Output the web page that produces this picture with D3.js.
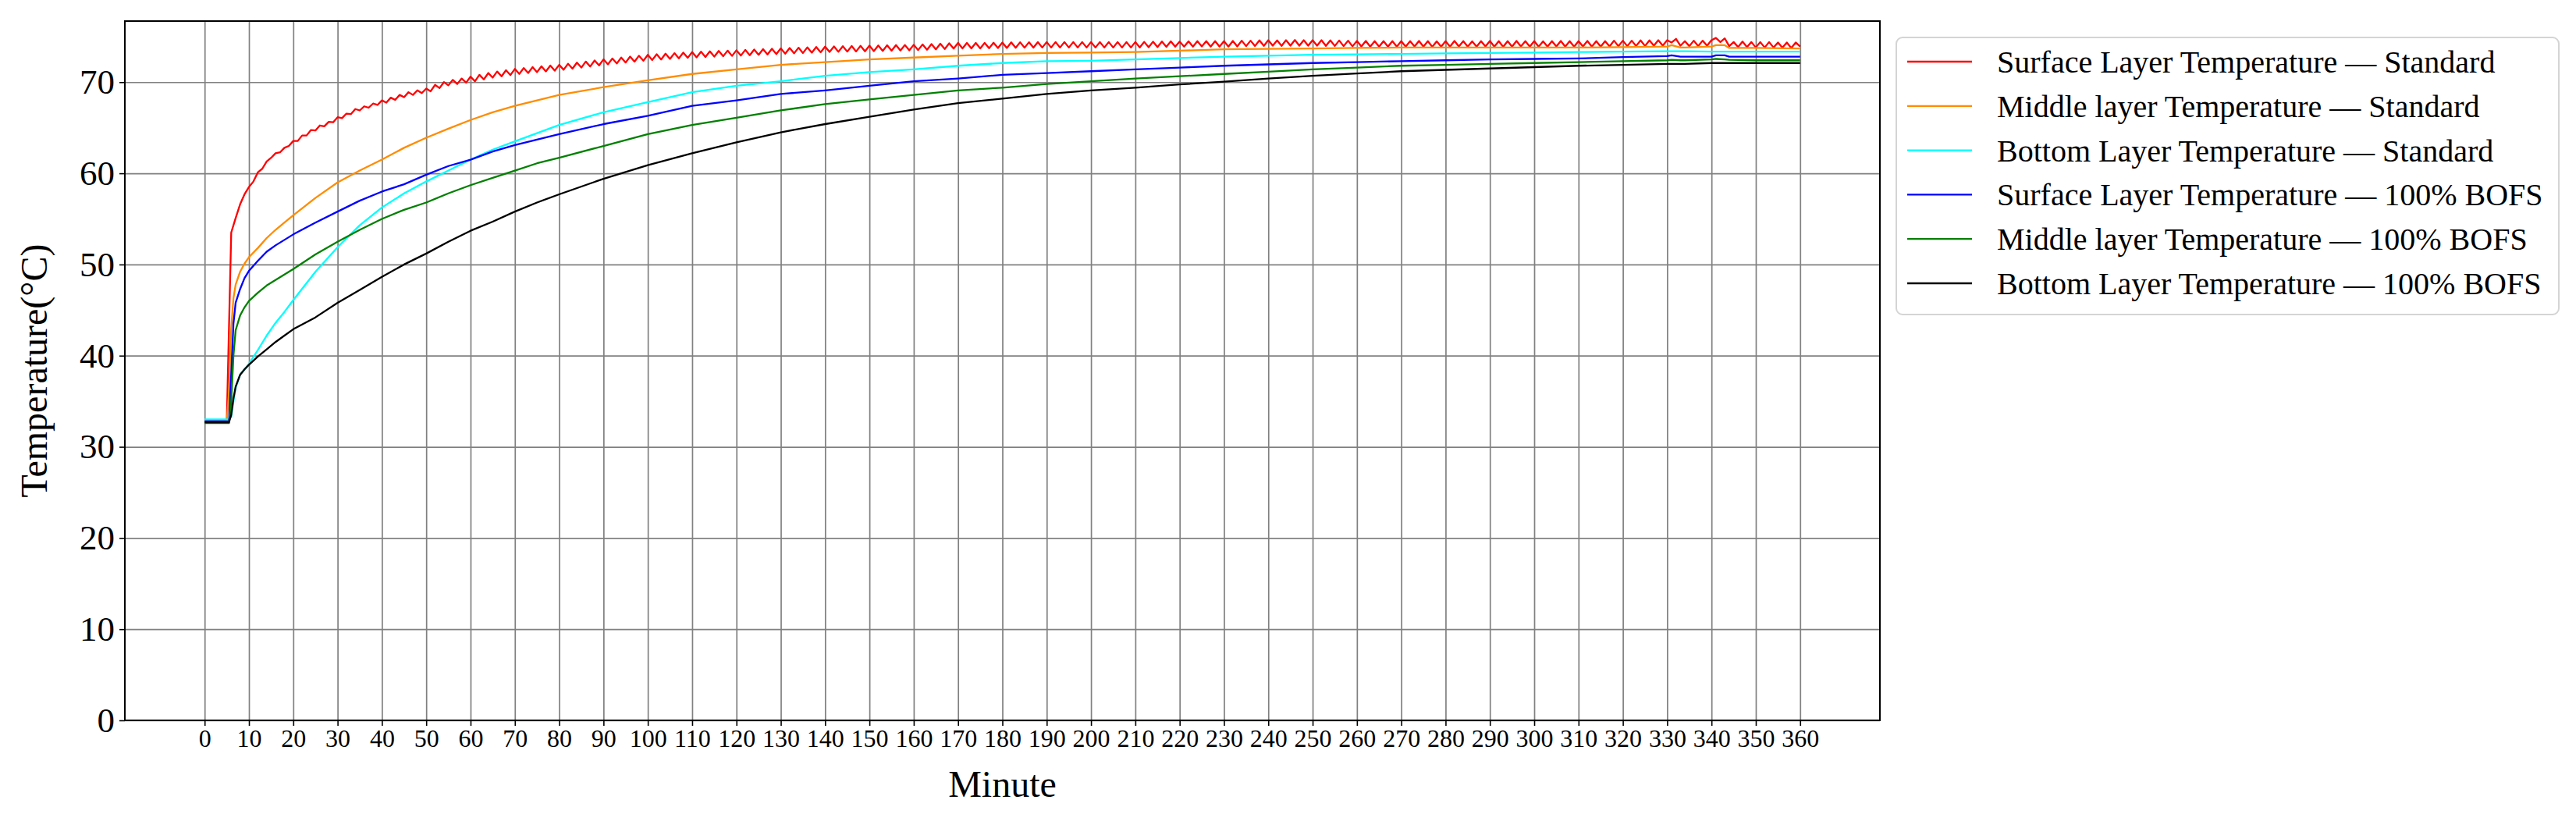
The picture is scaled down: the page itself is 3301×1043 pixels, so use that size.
<!DOCTYPE html>
<html>
<head>
<meta charset="utf-8">
<script src="https://cdn.jsdelivr.net/npm/d3@7"></script>
<style>
  body { margin: 0; background: #fff; }
  svg text { font-family: "Liberation Serif", "Times New Roman", serif; fill: #000; }
</style>
</head>
<body>
<svg id="chart"></svg>
<script>
// Layer temperatures over time, standard vs 100% BOFS.

// shared time grid (minutes) for the five smoother series
const minutes = [0, 2, 4, 5, 5.5, 6, 6.5, 7, 8, 9, 10, 12, 14, 16, 18, 20, 25, 30, 35, 40,
  45, 50, 55, 60, 65, 70, 75, 80, 90, 100, 110, 120, 130, 140, 150, 160, 170, 180, 190, 200,
  210, 220, 230, 240, 250, 260, 270, 280, 290, 300, 310, 320, 330, 331, 333, 334, 340, 341, 343, 344,
  350, 360];

const middleStd = [32.8, 32.8, 32.8, 32.8, 36.0, 43.0, 46.3, 47.8, 49.2, 50.1, 50.8, 51.8, 52.9, 53.8, 54.6, 55.4, 57.3, 59.0, 60.3, 61.5,
  62.8, 63.9, 64.9, 65.85, 66.7, 67.4, 68.0, 68.6, 69.45, 70.2, 70.9, 71.4, 71.9, 72.2, 72.5, 72.7, 72.9, 73.1, 73.2, 73.25,
  73.3, 73.45, 73.6, 73.65, 73.7, 73.75, 73.8, 73.8, 73.8, 73.8, 73.8, 73.85, 73.9, 74.05, 73.8, 73.8, 73.9, 74.05, 74.05, 73.75,
  73.75, 73.7];

const bottomStd = [33.0, 33.0, 33.0, 33.0, 33.0, 33.3, 35.0, 36.5, 37.9, 38.5, 39.1, 40.6, 42.2, 43.6, 44.8, 46.1, 49.2, 51.9, 54.3, 56.25,
  57.8, 59.1, 60.3, 61.5, 62.6, 63.5, 64.4, 65.3, 66.7, 67.8, 68.9, 69.6, 70.1, 70.7, 71.1, 71.4, 71.8, 72.1, 72.3, 72.35,
  72.5, 72.65, 72.8, 72.9, 73.0, 73.05, 73.1, 73.15, 73.2, 73.25, 73.3, 73.35, 73.4, 73.4, 73.4, 73.4, 73.35, 73.35, 73.35, 73.35,
  73.35, 73.35];

const surfaceBofs = [32.8, 32.8, 32.8, 32.8, 32.8, 38.0, 43.5, 45.8, 47.3, 48.5, 49.3, 50.4, 51.4, 52.1, 52.7, 53.3, 54.6, 55.8, 57.0, 58.0,
  58.8, 59.85, 60.8, 61.5, 62.4, 63.1, 63.7, 64.3, 65.4, 66.3, 67.4, 68.0, 68.7, 69.1, 69.6, 70.1, 70.4, 70.8, 71.0, 71.2,
  71.4, 71.6, 71.8, 71.95, 72.1, 72.2, 72.3, 72.4, 72.5, 72.55, 72.6, 72.75, 72.85, 72.95, 72.8, 72.8, 72.8, 72.95, 72.95, 72.8,
  72.8, 72.8];

const middleBofs = [32.6, 32.6, 32.6, 32.6, 32.6, 35.0, 40.0, 42.8, 44.4, 45.3, 46.0, 46.9, 47.7, 48.3, 48.9, 49.5, 51.1, 52.5, 53.8, 55.0,
  56.0, 56.8, 57.8, 58.7, 59.5, 60.3, 61.1, 61.7, 63.0, 64.3, 65.3, 66.1, 66.9, 67.6, 68.1, 68.6, 69.1, 69.4, 69.8, 70.1,
  70.4, 70.65, 70.9, 71.15, 71.4, 71.6, 71.8, 71.9, 72.0, 72.1, 72.2, 72.3, 72.4, 72.45, 72.4, 72.4, 72.5, 72.55, 72.5, 72.45,
  72.4, 72.4];

const bottomBofs = [32.7, 32.7, 32.7, 32.7, 32.7, 33.5, 35.3, 36.6, 37.9, 38.5, 39.0, 39.9, 40.7, 41.5, 42.2, 42.9, 44.2, 45.8, 47.2, 48.65,
  50.0, 51.2, 52.5, 53.7, 54.7, 55.8, 56.8, 57.7, 59.4, 60.9, 62.2, 63.4, 64.5, 65.4, 66.2, 67.0, 67.7, 68.2, 68.7, 69.1,
  69.4, 69.75, 70.05, 70.4, 70.7, 70.95, 71.2, 71.35, 71.5, 71.65, 71.8, 71.9, 72.0, 72.0, 72.0, 72.0, 72.1, 72.1, 72.1, 72.1,
  72.1, 72.1];

// surface layer (standard) is logged every minute and jitters visibly
const surfaceMinutes = d3.range(0, 361);
const surfaceStd = [
  32.9, 32.9, 32.9, 32.9, 32.9, 32.9, 53.5, 55.1, 56.6, 57.7,
  58.5, 59.1, 60.1, 60.5, 61.3, 61.7, 62.2, 62.3, 62.8, 63.0,
  63.55, 63.55, 64.15, 64.15, 64.75, 64.7, 65.25, 65.15, 65.65, 65.6,
  66.15, 66.05, 66.55, 66.5, 67.05, 66.9, 67.35, 67.2, 67.65, 67.5,
  68.0, 67.75, 68.3, 68.05, 68.6, 68.35, 68.9, 68.6, 69.1, 68.8,
  69.3, 69.0, 69.7, 69.35, 70.0, 69.65, 70.25, 69.8, 70.4, 69.95,
  70.6, 70.1, 70.8, 70.3, 71.0, 70.5, 71.17, 70.64, 71.31, 70.78,
  71.45, 70.9, 71.55, 71.0, 71.65, 71.1, 71.74, 71.18, 71.82, 71.26,
  71.9, 71.36, 72.02, 71.48, 72.14, 71.6, 72.26, 71.72, 72.38, 71.84,
  72.5, 71.95, 72.6, 72.05, 72.7, 72.15, 72.8, 72.25, 72.9, 72.35,
  73.0, 72.43, 73.06, 72.49, 73.12, 72.55, 73.18, 72.61, 73.24, 72.67,
  73.3, 72.72, 73.34, 72.76, 73.38, 72.8, 73.42, 72.84, 73.46, 72.88,
  73.5, 72.92, 73.54, 72.96, 73.58, 73.0, 73.62, 73.04, 73.66, 73.08,
  73.7, 73.12, 73.74, 73.16, 73.78, 73.2, 73.82, 73.24, 73.86, 73.28,
  73.9, 73.31, 73.92, 73.33, 73.94, 73.35, 73.96, 73.37, 73.98, 73.39,
  74.0, 73.41, 74.02, 73.43, 74.04, 73.45, 74.06, 73.47, 74.08, 73.49,
  74.1, 73.52, 74.14, 73.56, 74.18, 73.6, 74.22, 73.64, 74.26, 73.68,
  74.3, 73.7, 74.3, 73.7, 74.3, 73.7, 74.3, 73.72, 74.32, 73.74,
  74.34, 73.75, 74.36, 73.77, 74.38, 73.78, 74.38, 73.79, 74.39, 73.8,
  74.4, 73.8, 74.4, 73.8, 74.4, 73.8, 74.4, 73.8, 74.4, 73.8,
  74.4, 73.8, 74.4, 73.8, 74.4, 73.8, 74.4, 73.8, 74.4, 73.8,
  74.4, 73.81, 74.42, 73.83, 74.44, 73.85, 74.46, 73.87, 74.48, 73.89,
  74.45, 73.9, 74.48, 73.9, 74.5, 73.92, 74.5, 73.9, 74.5, 73.9,
  74.5, 73.9, 74.52, 73.92, 74.55, 73.95, 74.55, 73.97, 74.58, 73.98,
  74.6, 74.0, 74.58, 73.98, 74.6, 74.0, 74.62, 74.0, 74.6, 74.0,
  74.6, 74.0, 74.6, 73.98, 74.58, 73.97, 74.57, 73.95, 74.55, 73.93,
  74.53, 73.92, 74.52, 73.9, 74.5, 73.9, 74.5, 73.9, 74.5, 73.9,
  74.5, 73.9, 74.5, 73.92, 74.52, 73.9, 74.5, 73.88, 74.48, 73.9,
  74.5, 73.9, 74.52, 73.92, 74.5, 73.9, 74.48, 73.9, 74.5, 73.92,
  74.52, 73.9, 74.5, 73.88, 74.5, 73.9, 74.52, 73.92, 74.5, 73.9,
  74.5, 73.9, 74.48, 73.9, 74.5, 73.92, 74.52, 73.9, 74.5, 73.9,
  74.5, 73.92, 74.52, 73.9, 74.5, 73.9, 74.5, 73.92, 74.55, 73.95,
  74.55, 73.95, 74.55, 73.97, 74.58, 73.97, 74.58, 74.0, 74.6, 74.0,
  74.6, 74.35, 74.75, 74.0, 74.5, 73.95, 74.55, 73.97, 74.55, 74.0,
  74.6, 74.85, 74.4, 74.8, 73.95, 74.4, 73.85, 74.45, 73.85, 74.4,
  73.8, 74.4, 73.8, 74.4, 73.8, 74.35, 73.78, 74.35, 73.75, 74.35,
  73.9];

const xTicks = d3.range(0, 361, 10);
const yTicks = d3.range(0, 71, 10);

const SERIES = [
  { name: 'Surface Layer Temperature — Standard', color: '#ff0000', t: surfaceMinutes, v: surfaceStd },
  { name: 'Middle layer Temperature — Standard',  color: '#ff8c00', t: minutes, v: middleStd },
  { name: 'Bottom Layer Temperature — Standard',  color: '#00ffff', t: minutes, v: bottomStd },
  { name: 'Surface Layer Temperature — 100% BOFS', color: '#0000ff', t: minutes, v: surfaceBofs },
  { name: 'Middle layer Temperature — 100% BOFS',  color: '#008000', t: minutes, v: middleBofs },
  { name: 'Bottom Layer Temperature — 100% BOFS',  color: '#000000', t: minutes, v: bottomBofs }
];

const W = 3301, H = 1043;
const M = { left: 160, right: 2409, top: 27, bottom: 923 };

const svg = d3.select('#chart').attr('width', W).attr('height', H);
svg.append('rect').attr('width', W).attr('height', H).attr('fill', '#fff');

const x = d3.scaleLinear().domain([-18, 378]).range([M.left, M.right]);
const y = d3.scaleLinear().domain([0, 76.7]).range([M.bottom, M.top]);

// grid
const gx = svg.append('g').attr('transform', `translate(0,${M.bottom})`)
  .call(d3.axisBottom(x).tickValues(xTicks).tickSize(-(M.bottom - M.top)).tickFormat(''));
const gy = svg.append('g').attr('transform', `translate(${M.left},0)`)
  .call(d3.axisLeft(y).tickValues(yTicks).tickSize(-(M.right - M.left)).tickFormat(''));
[gx, gy].forEach(g => {
  g.select('.domain').remove();
  g.selectAll('line').attr('stroke', '#808080').attr('stroke-width', 1.7);
});

// lines
const line = d3.line().x(d => x(d[0])).y(d => y(d[1]));
SERIES.forEach(s => {
  svg.append('path')
    .datum(s.t.map((t, i) => [t, s.v[i]]))
    .attr('fill', 'none')
    .attr('stroke', s.color)
    .attr('stroke-width', 2.3)
    .attr('stroke-linejoin', 'round')
    .attr('d', line);
});

// axes
const ax = svg.append('g').attr('transform', `translate(0,${M.bottom})`)
  .call(d3.axisBottom(x).tickValues(xTicks).tickSize(7).tickPadding(4));
const ay = svg.append('g').attr('transform', `translate(${M.left},0)`)
  .call(d3.axisLeft(y).tickValues(yTicks).tickSize(7).tickPadding(6));
[ax, ay].forEach(g => {
  g.select('.domain').remove();
  g.selectAll('line').attr('stroke', '#000').attr('stroke-width', 1.6);
  g.selectAll('text').attr('font-family', null);
});
ax.selectAll('text').style('font-size', '32px');
ay.selectAll('text').style('font-size', '45px');

svg.append('rect')
  .attr('x', M.left).attr('y', M.top)
  .attr('width', M.right - M.left).attr('height', M.bottom - M.top)
  .attr('fill', 'none').attr('stroke', '#000').attr('stroke-width', 2);

// axis titles
svg.append('text')
  .attr('x', (M.left + M.right) / 2).attr('y', 1021)
  .attr('text-anchor', 'middle').style('font-size', '48px')
  .text('Minute');
svg.append('text')
  .attr('transform', `translate(60,${(M.top + M.bottom) / 2}) rotate(-90)`)
  .attr('text-anchor', 'middle').style('font-size', '48px')
  .text('Temperature(°C)');

// legend
const lg = svg.append('g');
lg.append('rect')
  .attr('x', 2430).attr('y', 48).attr('width', 849).attr('height', 355)
  .attr('rx', 8).attr('fill', '#fff').attr('stroke', '#d4d4d4').attr('stroke-width', 2);
SERIES.forEach((s, i) => {
  const ly = 79 + i * 56.8;
  lg.append('line')
    .attr('x1', 2444).attr('x2', 2527).attr('y1', ly).attr('y2', ly)
    .attr('stroke', s.color).attr('stroke-width', 2.3);
  lg.append('text')
    .attr('x', 2559).attr('y', ly + 14)
    .style('font-size', '40px')
    .text(s.name);
});
</script>
</body>
</html>
